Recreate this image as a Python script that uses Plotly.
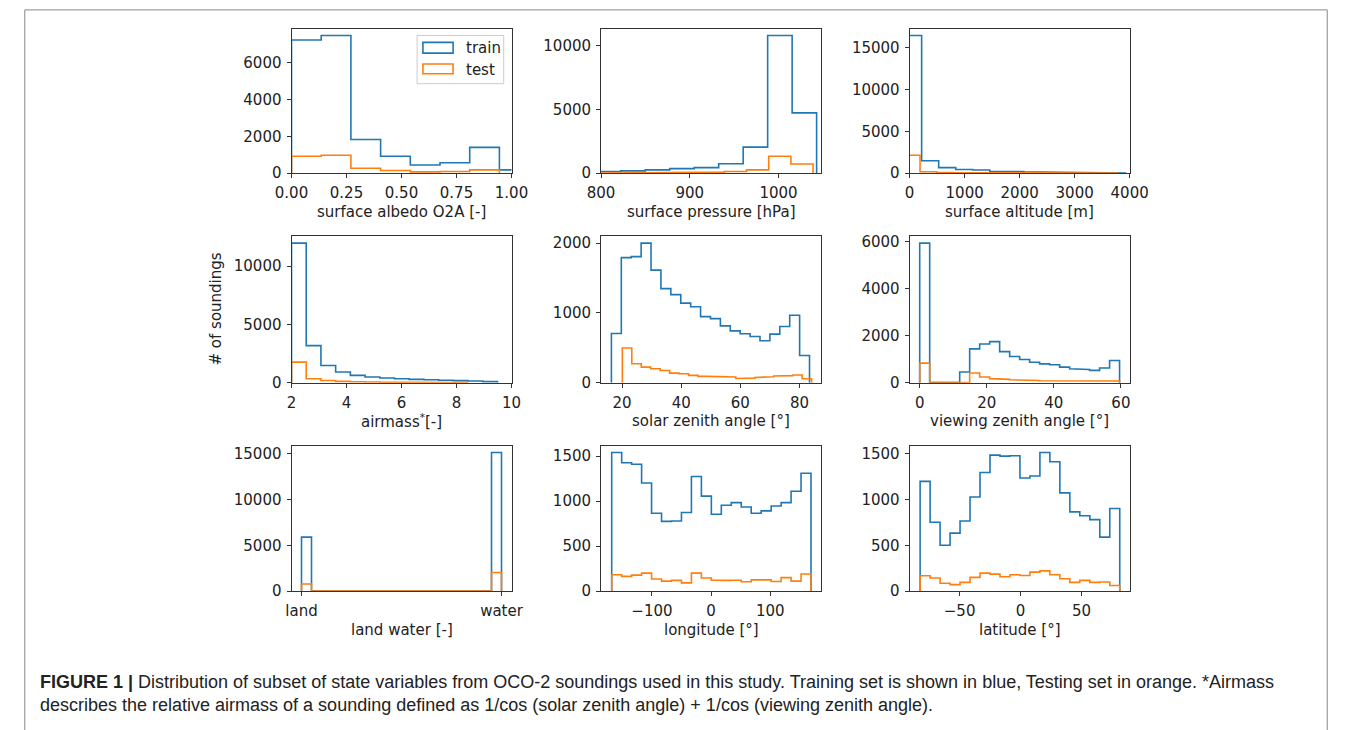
import numpy as np
import plotly.graph_objects as go

W, H = 1355, 730
BLUE = "#1f77b4"
ORANGE = "#ff7f0e"
FONT = "DejaVu Sans"
FS = 15

# ---- histogram data: bin edges (lo, hi, n) and counts per set ----
albedo_train_bins = (0.0, 1.08, 8)
albedo_train = [7250, 7495, 1830, 924, 444, 570, 1403, 178]
albedo_test_bins = (0.0, 0.945, 7)
albedo_test = [924, 977, 266, 142, 71, 89, 178]

pressure_train_bins = (767.0, 1043.0, 10)
pressure_train = [90, 128, 178, 255, 357, 434, 740, 2040, 10790, 4720]
pressure_test_bins = (789.0, 1039.0, 10)
pressure_test = [10, 20, 30, 40, 50, 77, 128, 255, 1327, 714]

altitude_train_bins = (-92.0, 3938.0, 13)
altitude_train = [16480, 1480, 660, 430, 380, 200, 180, 140, 130, 120, 110, 100, 90]
altitude_test_bins = (-111.0, 3789.0, 13)
altitude_test = [2140, 160, 70, 45, 30, 25, 20, 15, 12, 10, 8, 5, 3]

airmass_train_bins = (2.0, 9.49, 14)
airmass_train = [11990, 3180, 1477, 910, 625, 483, 400, 340, 285, 255, 200, 170, 140, 85]
airmass_test_bins = (2.0, 8.42, 12)
airmass_test = [1760, 340, 180, 110, 75, 55, 40, 30, 20, 15, 10, 5]

sza_train_bins = (16.4, 83.4, 20)
sza_train = [705, 1792, 1806, 2000, 1612, 1348, 1262, 1140, 1087, 946,
             917, 813, 742, 700, 662, 600, 695, 804, 965, 388]
sza_test_bins = (20.1, 84.1, 20)
sza_test = [496, 270, 222, 200, 175, 137, 128, 104, 90, 88,
            85, 80, 60, 65, 75, 85, 95, 100, 110, 55]

vza_train_bins = (0.0, 59.6, 20)
vza_train = [5935, 0, 0, 0, 450, 1435, 1645, 1745, 1320, 1110,
             985, 870, 800, 760, 660, 590, 560, 520, 620, 940]
vza_test_bins = (0.0, 59.6, 20)
vza_test = [830, 0, 0, 0, 0, 410, 240, 170, 140, 120,
            100, 90, 80, 70, 60, 55, 50, 60, 65, 70]

landwater_labels = ["land", "water"]
landwater_train = [5890, 15100]
landwater_test = [785, 2035]
landwater_nbins = 20

lon_train_bins = (-168.0, 169.0, 20)
lon_train = [1540, 1427, 1409, 1201, 866, 775, 779, 874, 1274, 1056,
             855, 954, 983, 935, 866, 892, 946, 983, 1110, 1310]
lon_test_bins = (-168.0, 169.0, 20)
lon_test = [182, 164, 178, 200, 135, 112, 120, 92, 200, 146,
            122, 120, 122, 105, 125, 125, 108, 150, 112, 190]

lat_train_bins = (-82.4, 81.4, 20)
lat_train = [1196, 750, 500, 632, 764, 1025, 1293, 1482, 1471, 1475,
             1232, 1254, 1510, 1410, 1071, 864, 821, 779, 589, 900]
lat_test_bins = (-82.4, 81.4, 20)
lat_test = [168, 143, 86, 71, 96, 150, 196, 186, 157, 179,
            171, 207, 221, 179, 136, 96, 118, 96, 100, 61]


# land/water flag histogram: first bin = land, last bin = water
def flag_counts(pair, n):
    return [pair[0]] + [0] * (n - 2) + [pair[1]]


# ---- panel definitions ----
panels = [
    dict(label="surface albedo O2A [-]", xr=[0, 1.0],
         tr=(albedo_train_bins, albedo_train), te=(albedo_test_bins, albedo_test),
         xt=[0, 0.25, 0.5, 0.75, 1.0], xtt=["0.00", "0.25", "0.50", "0.75", "1.00"],
         yt=[0, 2000, 4000, 6000]),
    dict(label="surface pressure [hPa]", xr=[800, 1048],
         tr=(pressure_train_bins, pressure_train), te=(pressure_test_bins, pressure_test),
         xt=[800, 900, 1000], xtt=["800", "900", "1000"],
         yt=[0, 5000, 10000]),
    dict(label="surface altitude [m]", xr=[0, 4000],
         tr=(altitude_train_bins, altitude_train), te=(altitude_test_bins, altitude_test),
         xt=[0, 1000, 2000, 3000, 4000], xtt=["0", "1000", "2000", "3000", "4000"],
         yt=[0, 5000, 10000, 15000]),
    dict(label="airmass<sup>*</sup>[-]", xr=[2, 10],
         tr=(airmass_train_bins, airmass_train), te=(airmass_test_bins, airmass_test),
         xt=[2, 4, 6, 8, 10], xtt=["2", "4", "6", "8", "10"],
         yt=[0, 5000, 10000]),
    dict(label="solar zenith angle [°]", xr=[12.9, 87.3],
         tr=(sza_train_bins, sza_train), te=(sza_test_bins, sza_test),
         xt=[20, 40, 60, 80], xtt=["20", "40", "60", "80"],
         yt=[0, 1000, 2000]),
    dict(label="viewing zenith angle [°]", xr=[-3.0, 62.6],
         tr=(vza_train_bins, vza_train), te=(vza_test_bins, vza_test),
         xt=[0, 20, 40, 60], xtt=["0", "20", "40", "60"],
         yt=[0, 2000, 4000, 6000]),
    dict(label="land water [-]", xr=[-0.05, 1.05],
         tr=((0.0, 1.0, landwater_nbins), flag_counts(landwater_train, landwater_nbins)),
         te=((0.0, 1.0, landwater_nbins), flag_counts(landwater_test, landwater_nbins)),
         xt=[0, 1], xtt=landwater_labels,
         yt=[0, 5000, 10000, 15000]),
    dict(label="longitude [°]", xr=[-186, 186],
         tr=(lon_train_bins, lon_train), te=(lon_test_bins, lon_test),
         xt=[-100, 0, 100], xtt=["\u2212100", "0", "100"],
         yt=[0, 500, 1000, 1500]),
    dict(label="latitude [°]", xr=[-91, 89.5],
         tr=(lat_train_bins, lat_train), te=(lat_test_bins, lat_test),
         xt=[-50, 0, 50], xtt=["\u221250", "0", "50"],
         yt=[0, 500, 1000, 1500]),
]

col_px = [(282, 508), (600, 826), (917, 1143)]
row_px = [(26, 173), (237, 386), (450, 598)]


def step_outline(bins, counts):
    lo, hi, n = bins
    edges = np.linspace(lo, hi, n + 1)
    xs, ys = [edges[0]], [0]
    for i, c in enumerate(counts):
        xs += [edges[i], edges[i + 1]]
        ys += [c, c]
    xs.append(edges[-1])
    ys.append(0)
    return xs, ys


fig = go.Figure()
layout = dict(
    width=W, height=H,
    margin=dict(l=0, r=0, t=0, b=0),
    paper_bgcolor="white", plot_bgcolor="white",
    showlegend=False,
    font=dict(family=FONT, size=FS, color="#222222"),
)
annotations = []
shapes = []

for k, p in enumerate(panels):
    r, c = divmod(k, 3)
    x0, x1 = col_px[c]
    y0, y1 = row_px[r]
    sfx = "" if k == 0 else str(k + 1)
    xa, ya = "x" + sfx, "y" + sfx

    for (bins, counts), color in ((p["tr"], BLUE), (p["te"], ORANGE)):
        xs, ys = step_outline(bins, counts)
        fig.add_trace(go.Scatter(x=xs, y=ys, mode="lines", xaxis=xa, yaxis=ya,
                                 line=dict(color=color, width=1.6),
                                 hoverinfo="skip"))

    ymax = max(max(p["tr"][1]), max(p["te"][1])) * 1.05
    axis_common = dict(showline=True, linecolor="#333333", linewidth=1, mirror=True,
                       ticks="outside", ticklen=4, tickwidth=1, tickcolor="#333333",
                       ticklabelstandoff=2,
                       showgrid=False, zeroline=False,
                       tickfont=dict(family=FONT, size=FS, color="#222222"))
    layout["xaxis" + sfx] = dict(domain=[x0 / W, x1 / W], anchor=ya, range=p["xr"],
                                 tickvals=p["xt"], ticktext=p["xtt"], **axis_common)
    layout["yaxis" + sfx] = dict(domain=[1 - y1 / H, 1 - y0 / H], anchor=xa,
                                 range=[0, ymax], tickvals=p["yt"],
                                 ticktext=[str(v) for v in p["yt"]], **axis_common)
    annotations.append(dict(text=p["label"], xref="paper", yref="paper",
                            x=(x0 + x1) / 2 / W, y=1 - (y1 + 39) / H,
                            xanchor="center", yanchor="middle", showarrow=False,
                            font=dict(family=FONT, size=FS, color="#222222")))

# shared y label
annotations.append(dict(text="# of soundings", xref="paper", yref="paper",
                        x=204 / W, y=1 - 311 / H, textangle=-90,
                        xanchor="center", yanchor="middle", showarrow=False,
                        font=dict(family=FONT, size=FS, color="#222222")))


# legend box in the first panel
def px_rect(x0, y0, x1, y1, **kw):
    return dict(type="rect", xref="paper", yref="paper",
                x0=x0 / W, x1=x1 / W, y0=1 - y1 / H, y1=1 - y0 / H, **kw)


shapes.append(px_rect(411, 33, 500, 82, line=dict(color="#cccccc", width=1),
                      fillcolor="rgba(255,255,255,0.8)"))
shapes.append(px_rect(417, 40, 448, 51, line=dict(color=BLUE, width=1.6)))
shapes.append(px_rect(417, 62, 448, 72, line=dict(color=ORANGE, width=1.6)))
for txt, yc in (("train", 46), ("test", 68)):
    annotations.append(dict(text=txt, xref="paper", yref="paper",
                            x=459 / W, y=1 - yc / H, xanchor="left", yanchor="middle",
                            showarrow=False,
                            font=dict(family=FONT, size=FS, color="#222222")))

# figure frame
shapes.append(px_rect(8, 7, 1346, 740, line=dict(color="#888888", width=1)))

# caption
CAP_FONT = "Liberation Sans, Arial"
annotations.append(dict(
    text="<b>FIGURE 1 |</b> Distribution of subset of state variables from OCO-2 soundings "
         "used in this study. Training set is shown in blue, Testing set in orange. *Airmass",
    xref="paper", yref="paper", x=22 / W, y=1 - 690 / H, xanchor="left", yanchor="middle",
    showarrow=False, font=dict(family=CAP_FONT, size=18, color="#222222")))
annotations.append(dict(
    text="describes the relative airmass of a sounding defined as 1/cos (solar zenith angle) "
         "+ 1/cos (viewing zenith angle).",
    xref="paper", yref="paper", x=22 / W, y=1 - 714 / H, xanchor="left", yanchor="middle",
    showarrow=False, font=dict(family=CAP_FONT, size=18, color="#222222")))

layout["annotations"] = annotations
layout["shapes"] = shapes
fig.update_layout(**layout)
fig.write_html("out.html")
